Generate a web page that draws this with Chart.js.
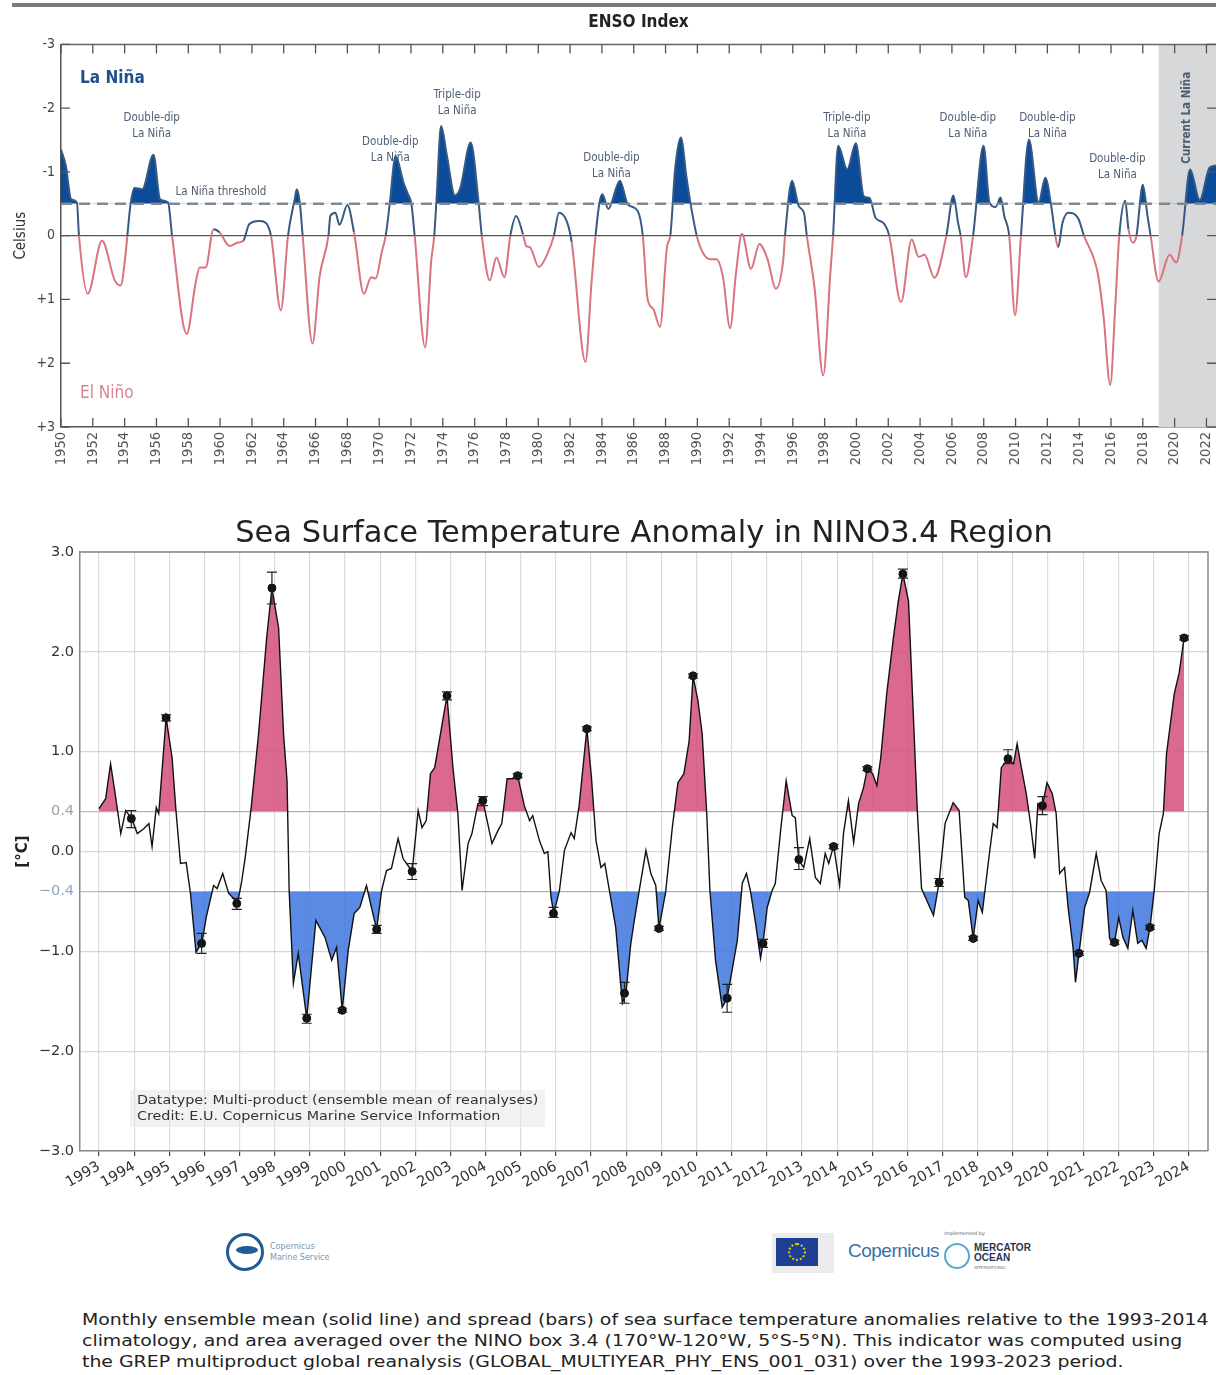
<!DOCTYPE html>
<html>
<head>
<meta charset="utf-8">
<script src="https://cdn.jsdelivr.net/npm/chart.js@4.4.1/dist/chart.umd.min.js"></script>
<style>
  body { margin: 0; background: #fff; width: 1216px; height: 1375px; position: relative; overflow: hidden; font-family: 'DejaVu Sans', sans-serif; }
  canvas { position: absolute; left: 0; }
  #topline { position: absolute; left: 12px; top: 3px; width: 1204px; height: 4px; background: #7a7a7a; }
  #infobox { position: absolute; left: 130px; top: 1090px; width: 415px; height: 37px; background: rgba(232,232,232,0.55); }
  #infotext { position: absolute; left: 137px; top: 1092px; font-size: 13px; line-height: 16px; color: #333; white-space: pre; transform: scaleX(1.1); transform-origin: left top; }
  #caption { position: absolute; left: 82px; top: 1309px; font-size: 16px; line-height: 21px; color: #222; white-space: pre; transform: scaleX(1.18); transform-origin: left top; }
  .logo { position: absolute; }
</style>
</head>
<body>
<div id="topline"></div>
<canvas id="ensoChart" width="1216" height="480" style="top:0"></canvas>
<canvas id="sstChart" width="1216" height="720" style="top:490px"></canvas>
<div id="infobox"></div>
<div id="infotext">Datatype: Multi-product (ensemble mean of reanalyses)
Credit: E.U. Copernicus Marine Service Information</div>

<!-- logos -->
<div class="logo" style="left:226px;top:1233px;width:32px;height:32px;border:3px solid #1f5c99;border-radius:50%;"></div>
<div class="logo" style="left:236px;top:1246px;width:22px;height:8px;background:#1f5c99;border-radius:50%;"></div>
<div class="logo" style="left:270px;top:1241px;font-size:8px;line-height:11px;color:#7896b8;">Copernicus<br>Marine Service</div>
<div class="logo" style="left:772px;top:1233px;width:62px;height:40px;background:#ececec;"></div>
<div class="logo" style="left:776px;top:1238px;width:42px;height:28px;background:#1f3f95;"></div>
<div class="logo" style="left:788px;top:1243px;width:14px;height:14px;border:2px dotted #f4d000;border-radius:50%;"></div>
<div class="logo" style="left:848px;top:1240px;font-family:'Liberation Sans',sans-serif;font-size:19px;letter-spacing:-0.5px;color:#3a70a8;">Copernicus</div>
<div class="logo" style="left:944px;top:1243px;width:22px;height:22px;border:2px solid #59a9cf;border-radius:50%;"></div>
<div class="logo" style="left:944px;top:1230px;font-size:5px;color:#666;">implemented by</div>
<div class="logo" style="left:974px;top:1243px;font-family:'Liberation Sans',sans-serif;font-weight:bold;font-size:10px;line-height:10px;color:#2a3550;">MERCATOR<br>OCEAN</div>
<div class="logo" style="left:974px;top:1265px;font-size:4px;color:#777;">INTERNATIONAL</div>

<div id="caption">Monthly ensemble mean (solid line) and spread (bars) of sea surface temperature anomalies relative to the 1993-2014
climatology, and area averaged over the NINO box 3.4 (170°W-120°W, 5°S-5°N). This indicator was computed using
the GREP multiproduct global reanalysis (GLOBAL_MULTIYEAR_PHY_ENS_001_031) over the 1993-2023 period.</div>

<script>
// ---- ENSO index (top panel) ----
const ensoYears = [1950.0, 1950.3, 1950.64, 1951.0, 1951.13, 1951.68, 1952.58, 1953.38, 1953.75, 1954.07,
  1954.17, 1954.37, 1954.62, 1955.11, 1955.81, 1956.23, 1956.73, 1956.98, 1957.9, 1958.47,
  1958.72, 1959.09, 1959.59, 1959.97, 1960.59, 1961.08, 1961.46, 1961.83, 1962.45, 1962.83,
  1963.2, 1963.82, 1964.27, 1964.69, 1964.82, 1965.01, 1965.19, 1965.81, 1966.26, 1966.81,
  1966.93, 1967.25, 1967.5, 1968.0, 1968.42, 1969.04, 1969.49, 1969.78, 1970.16, 1970.41,
  1970.66, 1971.03, 1971.53, 1971.78, 1972.03, 1972.23, 1972.89, 1973.27, 1973.46, 1973.6,
  1973.89, 1974.26, 1974.76, 1975.1, 1975.75, 1976.25, 1976.45, 1976.95, 1977.37, 1977.87,
  1978.24, 1978.61, 1979.04, 1979.24, 1979.47, 1980.04, 1980.6, 1980.98, 1981.3, 1981.8,
  1982.1, 1982.97, 1983.35, 1983.6, 1983.85, 1984.03, 1984.4, 1985.13, 1985.63, 1986.24,
  1986.57, 1986.87, 1987.23, 1987.65, 1988.1, 1988.3, 1988.6, 1988.96, 1989.33, 1989.58,
  1989.96, 1990.33, 1990.8, 1991.2, 1991.61, 1992.06, 1992.43, 1992.8, 1993.37, 1993.9,
  1994.4, 1994.94, 1995.39, 1995.51, 1995.95, 1996.38, 1996.7, 1996.88, 1997.37, 1997.91,
  1998.36, 1998.53, 1998.85, 1999.42, 1999.96, 2000.46, 2000.83, 2001.2, 2001.69, 2002.06,
  2002.8, 2003.47, 2003.91, 2004.28, 2004.9, 2005.65, 2006.09, 2006.39, 2006.55, 2006.88,
  2007.33, 2007.99, 2008.36, 2008.75, 2009.06, 2009.3, 2009.6, 2009.97, 2010.34, 2010.84,
  2011.45, 2011.87, 2012.27, 2012.5, 2012.68, 2012.95, 2013.31, 2013.92, 2014.3, 2015.16,
  2015.53, 2015.95, 2016.27, 2016.52, 2016.89, 2017.1, 2017.38, 2017.6, 2018.0, 2018.3,
  2018.49, 2018.99, 2019.68, 2020.1, 2020.47, 2020.97, 2021.58, 2022.2, 2022.6];
const ensoValues = [-1.35, -1.1, -0.57, -0.52, 0, 0.91, 0.08, 0.70, 0.78, 0.26,
  0, -0.49, -0.75, -0.73, -1.27, -0.57, -0.52, 0, 1.54, 0.73,
  0.50, 0.50, -0.10, -0.05, 0.16, 0.11, 0.08, -0.18, -0.23, -0.21,
  0, 1.17, 0, -0.57, -0.73, -0.52, 0, 1.69, 0.63, 0,
  -0.31, -0.36, -0.17, -0.48, -0.05, 0.91, 0.65, 0.67, 0.26, 0,
  -0.49, -1.25, -0.83, -0.67, -0.49, 0, 1.75, 0.40, 0, -0.55,
  -1.72, -1.25, -0.63, -0.75, -1.46, -0.52, 0, 0.70, 0.34, 0.65,
  0, -0.31, -0.02, 0.16, 0.18, 0.49, 0.27, 0, -0.36, -0.22,
  0.1, 1.98, 0.72, 0, -0.52, -0.65, -0.42, -0.86, -0.49, -0.39,
  0, 0.99, 1.15, 1.43, 0.16, 0, -1.04, -1.54, -0.89, -0.49,
  0, 0.26, 0.37, 0.37, 0.65, 1.45, 0.58, -0.03, 0.52, 0.13,
  0.36, 0.83, 0.40, 0, -0.86, -0.46, -0.36, 0, 0.83, 2.19,
  0.58, 0, -1.41, -1.04, -1.45, -0.62, -0.59, -0.28, -0.20, 0,
  1.04, 0.06, 0.33, 0.30, 0.66, 0, -0.63, -0.2, 0, 0.65,
  0, -1.41, -0.52, -0.45, -0.6, -0.3, 0, 1.25, 0, -1.51,
  -0.52, -0.91, -0.42, 0, 0.18, -0.2, -0.36, -0.28, 0, 0.58,
  1.26, 2.34, 1.1, 0, -0.55, -0.1, 0.11, 0, -0.8, -0.3,
  0, 0.72, 0.3, 0.42, 0, -1.04, -0.56, -1.07, -1.1];
const ensoTickYears = [1950, 1952, 1954, 1956, 1958, 1960, 1962, 1964, 1966, 1968, 1970, 1972, 1974, 1976,
  1978, 1980, 1982, 1984, 1986, 1988, 1990, 1992, 1994, 1996, 1998, 2000, 2002, 2004, 2006, 2008,
  2010, 2012, 2014, 2016, 2018, 2020, 2022];
const laNinaThreshold = -0.5;
const currentLaNinaStart = 2019;
// event labels: [year, value, text]
const ensoEventLabels = [
  [1955.7, -1.72, 'Double-dip|La Niña'],
  [1970.7, -1.34, 'Double-dip|La Niña'],
  [1974.9, -2.08, 'Triple-dip|La Niña'],
  [1984.6, -1.09, 'Double-dip|La Niña'],
  [1999.4, -1.72, 'Triple-dip|La Niña'],
  [2007.0, -1.72, 'Double-dip|La Niña'],
  [2012.0, -1.72, 'Double-dip|La Niña'],
  [2016.4, -1.07, 'Double-dip|La Niña']
];

// ---- SST anomaly NINO3.4 (bottom panel) ----
const sstYears = [1993.0, 1993.19, 1993.33, 1993.46, 1993.62, 1993.76, 1993.93, 1994.09, 1994.28, 1994.42,
  1994.51, 1994.63, 1994.70, 1994.91, 1995.08, 1995.19, 1995.32, 1995.48, 1995.60, 1995.76,
  1995.93, 1996.05, 1996.26, 1996.36, 1996.52, 1996.69, 1996.83, 1996.94, 1997.05, 1997.16,
  1997.33, 1997.54, 1997.77, 1997.92, 1998.11, 1998.25, 1998.35, 1998.41, 1998.53, 1998.67,
  1998.91, 1999.17, 1999.43, 1999.62, 1999.76, 1999.92, 2000.09, 2000.26, 2000.42, 2000.61,
  2000.75, 2000.90, 2001.04, 2001.18, 2001.32, 2001.51, 2001.65, 2001.79, 2001.91, 2002.08,
  2002.19, 2002.31, 2002.43, 2002.55, 2002.90, 2003.07, 2003.21, 2003.33, 2003.50, 2003.61,
  2003.78, 2003.92, 2004.06, 2004.18, 2004.35, 2004.46, 2004.61, 2004.77, 2004.91, 2005.10,
  2005.25, 2005.34, 2005.53, 2005.67, 2005.77, 2005.86, 2005.94, 2006.10, 2006.24, 2006.43,
  2006.52, 2006.66, 2006.88, 2007.01, 2007.14, 2007.28, 2007.39, 2007.52, 2007.70, 2007.85,
  2007.89, 2007.99, 2008.13, 2008.23, 2008.37, 2008.56, 2008.70, 2008.84, 2008.93, 2009.12,
  2009.31, 2009.47, 2009.64, 2009.79, 2009.90, 2010.04, 2010.16, 2010.29, 2010.38, 2010.54,
  2010.73, 2010.87, 2011.01, 2011.16, 2011.30, 2011.42, 2011.53, 2011.68, 2011.82, 2011.89,
  2012.01, 2012.15, 2012.24, 2012.40, 2012.55, 2012.72, 2012.81, 2012.91, 2013.05, 2013.22,
  2013.38, 2013.52, 2013.66, 2013.76, 2013.90, 2014.07, 2014.18, 2014.32, 2014.47, 2014.61,
  2014.75, 2014.86, 2015.01, 2015.13, 2015.24, 2015.41, 2015.60, 2015.74, 2015.87, 2016.03,
  2016.17, 2016.28, 2016.40, 2016.55, 2016.74, 2016.90, 2017.07, 2017.30, 2017.47, 2017.63,
  2017.73, 2017.87, 2018.01, 2018.13, 2018.30, 2018.44, 2018.55, 2018.67, 2018.86, 2019.02,
  2019.12, 2019.24, 2019.38, 2019.50, 2019.62, 2019.71, 2019.84, 2019.97, 2020.12, 2020.23,
  2020.33, 2020.47, 2020.57, 2020.71, 2020.78, 2020.88, 2021.04, 2021.18, 2021.37, 2021.51,
  2021.65, 2021.75, 2021.89, 2022.01, 2022.13, 2022.27, 2022.41, 2022.55, 2022.67, 2022.79,
  2022.90, 2023.02, 2023.16, 2023.28, 2023.37, 2023.59, 2023.73, 2023.87];
const sstValues = [0.43, 0.53, 0.88, 0.58, 0.18, 0.41, 0.33, 0.18, 0.23, 0.28,
  0.05, 0.44, 0.38, 1.34, 0.94, 0.41, -0.12, -0.11, -0.41, -1.01,
  -0.91, -0.66, -0.34, -0.37, -0.22, -0.42, -0.47, -0.52, -0.32, -0.06,
  0.44, 1.18, 2.14, 2.64, 2.24, 1.18, 0.71, -0.39, -1.32, -1.02,
  -1.67, -0.69, -0.86, -1.09, -0.96, -1.59, -0.99, -0.62, -0.56, -0.34,
  -0.56, -0.78, -0.39, -0.19, -0.17, 0.13, -0.07, -0.14, -0.20, 0.41,
  0.24, 0.31, 0.78, 0.84, 1.56, 0.84, 0.38, -0.39, 0.08, 0.18,
  0.48, 0.51, 0.28, 0.08, 0.21, 0.28, 0.73, 0.73, 0.76, 0.46,
  0.31, 0.36, 0.11, -0.02, 0.00, -0.46, -0.62, -0.39, 0.01, 0.19,
  0.13, 0.46, 1.23, 0.74, 0.11, -0.16, -0.12, -0.39, -0.76, -1.36,
  -1.52, -1.42, -0.92, -0.69, -0.39, 0.01, -0.22, -0.34, -0.77, -0.41,
  0.24, 0.69, 0.78, 1.11, 1.76, 1.51, 1.18, 0.38, -0.39, -1.09,
  -1.56, -1.47, -1.19, -0.89, -0.32, -0.22, -0.39, -0.72, -1.07, -0.92,
  -0.56, -0.39, -0.32, 0.24, 0.71, 0.36, 0.34, -0.09, -0.16, 0.13,
  -0.26, -0.32, -0.02, -0.12, 0.06, -0.34, 0.18, 0.51, 0.09, 0.48,
  0.64, 0.83, 0.78, 0.66, 0.94, 1.58, 2.14, 2.51, 2.78, 2.51,
  1.34, 0.41, -0.37, -0.49, -0.64, -0.31, 0.28, 0.49, 0.41, -0.46,
  -0.49, -0.87, -0.49, -0.61, -0.11, 0.28, 0.24, 0.84, 0.93, 0.88,
  1.08, 0.84, 0.58, 0.28, -0.07, 0.48, 0.46, 0.69, 0.58, 0.38,
  -0.22, -0.16, -0.56, -0.96, -1.31, -1.02, -0.56, -0.41, -0.02, -0.29,
  -0.39, -0.87, -0.91, -0.66, -0.86, -0.97, -0.59, -0.92, -0.89, -0.97,
  -0.76, -0.39, 0.18, 0.38, 0.98, 1.58, 1.79, 2.14];
// December ensemble mean with spread (min / max)
const markerYears = [1993.92, 1994.91, 1995.92, 1996.92, 1997.92, 1998.91, 1999.92, 2000.9, 2001.91, 2002.9,
  2003.92, 2004.91, 2005.93, 2006.88, 2007.95, 2008.93, 2009.9, 2010.87, 2011.89, 2012.91,
  2013.9, 2014.86, 2015.87, 2016.9, 2017.87, 2018.86, 2019.84, 2020.88, 2021.89, 2022.9, 2023.87];
const markerValues = [0.33, 1.34, -0.92, -0.52, 2.64, -1.67, -1.59, -0.78, -0.20, 1.56,
  0.51, 0.76, -0.62, 1.23, -1.42, -0.77, 1.76, -1.47, -0.92, -0.08,
  0.05, 0.83, 2.78, -0.31, -0.87, 0.93, 0.46, -1.02, -0.91, -0.76, 2.14];
const markerHigh = [0.41, 1.37, -0.82, -0.47, 2.80, -1.63, -1.57, -0.74, -0.12, 1.60,
  0.55, 0.78, -0.56, 1.25, -1.31, -0.75, 1.78, -1.33, -0.88, 0.04,
  0.07, 0.85, 2.83, -0.27, -0.85, 1.02, 0.55, -1.00, -0.89, -0.74, 2.16];
const markerLow = [0.24, 1.31, -1.02, -0.58, 2.48, -1.72, -1.61, -0.82, -0.28, 1.52,
  0.46, 0.74, -0.66, 1.21, -1.52, -0.79, 1.74, -1.61, -0.96, -0.18,
  0.03, 0.81, 2.74, -0.35, -0.89, 0.88, 0.37, -1.04, -0.93, -0.78, 2.12];
const sstTickYears = [1993, 1994, 1995, 1996, 1997, 1998, 1999, 2000, 2001, 2002, 2003, 2004, 2005, 2006, 2007, 2008,
  2009, 2010, 2011, 2012, 2013, 2014, 2015, 2016, 2017, 2018, 2019, 2020, 2021, 2022, 2023, 2024];
const sstTickValues = [-3, -2, -1, -0.4, 0, 0.4, 1, 2, 3];
const elNinoLevel = 0.4;
const laNinaLevel = -0.4;

const condensed = "'DejaVu Sans Condensed', 'Liberation Sans Narrow', sans-serif";

// ---------- top chart ----------
const ensoDecor = {
  id: 'ensoDecor',
  beforeDatasetsDraw(chart) {
    const {ctx, chartArea: a, scales: {x}} = chart;
    ctx.save();
    ctx.fillStyle = '#d6d8da';
    const x0 = x.getPixelForValue(currentLaNinaStart);
    ctx.fillRect(x0, a.top, a.right - x0, a.bottom - a.top);
    ctx.restore();
  },
  afterDraw(chart) {
    const {ctx, chartArea: a, scales: {x, y}} = chart;
    ctx.save();
    ctx.strokeStyle = '#666';
    ctx.lineWidth = 1.5;
    ctx.beginPath();
    ctx.moveTo(a.left, a.top); ctx.lineTo(a.right, a.top);
    ctx.stroke();
    // inward ticks
    ctx.lineWidth = 1.3;
    ctx.strokeStyle = '#555';
    ensoTickYears.forEach(v => {
      const px = x.getPixelForValue(v);
      ctx.beginPath();
      ctx.moveTo(px, a.bottom); ctx.lineTo(px, a.bottom - 9);
      ctx.moveTo(px, a.top); ctx.lineTo(px, a.top + 9);
      ctx.stroke();
    });
    [-3, -2, -1, 0, 1, 2, 3].forEach(v => {
      const py = y.getPixelForValue(v);
      ctx.beginPath();
      ctx.moveTo(a.left, py); ctx.lineTo(a.left + 9, py);
      ctx.moveTo(a.right, py); ctx.lineTo(a.right - 9, py);
      ctx.stroke();
    });
    // labels
    ctx.textBaseline = 'middle';
    ctx.textAlign = 'left';
    ctx.fillStyle = '#1f4f8c';
    ctx.font = 'bold 17px ' + condensed;
    ctx.fillText('La Niña', x.getPixelForValue(1951.2), y.getPixelForValue(-2.47));
    ctx.fillStyle = '#d98590';
    ctx.font = '17px ' + condensed;
    ctx.fillText('El Niño', x.getPixelForValue(1951.2), y.getPixelForValue(2.48));
    ctx.fillStyle = '#55606c';
    ctx.font = '11.5px ' + condensed;
    ctx.fillText('La Niña threshold', x.getPixelForValue(1957.2), y.getPixelForValue(-0.68));
    ctx.textAlign = 'center';
    ctx.fillStyle = '#4e6075';
    ensoEventLabels.forEach(([yr, v, txt]) => {
      const px = x.getPixelForValue(yr);
      txt.split('|').forEach((line, i) => {
        ctx.fillText(line, px, y.getPixelForValue(v) + (i - 0.5) * 16);
      });
    });
    ctx.save();
    ctx.translate(x.getPixelForValue(2020.8), y.getPixelForValue(-1.85));
    ctx.rotate(-Math.PI / 2);
    ctx.font = 'bold 11.5px ' + condensed;
    ctx.fillStyle = '#4b5d72';
    ctx.fillText('Current La Niña', 0, 0);
    ctx.restore();
    ctx.restore();
  }
};

new Chart(document.getElementById('ensoChart'), {
  type: 'line',
  data: {
    datasets: [
      {
        data: [{x: 1950, y: laNinaThreshold}, {x: 2022.6, y: laNinaThreshold}],
        borderColor: '#7f8994',
        borderWidth: 2.5,
        borderDash: [11, 7],
        pointRadius: 0,
        fill: false
      },
      {
        data: ensoYears.map((x, i) => ({x, y: ensoValues[i]})),
        borderWidth: 2,
        pointRadius: 0,
        cubicInterpolationMode: 'monotone',
        fill: {target: {value: laNinaThreshold}, above: '#0b4b99', below: 'rgba(0,0,0,0)'},
        segment: {
          borderColor: c => (c.p0.parsed.y + c.p1.parsed.y) / 2 < 0 ? '#375a82' : '#d9737d'
        }
      }
    ]
  },
  options: {
    responsive: false,
    animation: false,
    layout: {padding: {left: 0, right: 0, top: 0, bottom: 0}},
    plugins: {
      legend: {display: false},
      tooltip: {enabled: false},
      title: {
        display: true,
        fullSize: false,
        text: 'ENSO Index',
        font: {family: condensed, size: 17, weight: 'bold'},
        color: '#222',
        padding: {top: 12, bottom: 12}
      }
    },
    scales: {
      x: {
        type: 'linear',
        min: 1950,
        max: 2022.6,
        afterBuildTicks: s => { s.ticks = ensoTickYears.map(v => ({value: v})); },
        afterFit: s => { s.height = 53; s.paddingLeft = 0; s.paddingRight = 0; },
        ticks: {
          autoSkip: false, minRotation: 90, maxRotation: 90, padding: 5,
          color: '#555', font: {family: condensed, size: 14.5},
          callback: v => String(v)
        },
        grid: {display: true, color: 'rgba(0,0,0,0)', drawTicks: false},
        border: {display: true, color: '#555', width: 1.5}
      },
      y: {
        min: -3,
        max: 3,
        reverse: true,
        afterFit: s => { s.width = 61; },
        ticks: {
          stepSize: 1, padding: 6, color: '#444', font: {family: condensed, size: 14},
          callback: v => v > 0 ? '+' + v : String(v)
        },
        grid: {
          drawTicks: false,
          color: c => c.tick && c.tick.value === 0 ? '#555' : 'rgba(0,0,0,0)',
          lineWidth: 1.2
        },
        border: {display: true, color: '#555', width: 1.5},
        title: {display: true, text: 'Celsius', color: '#333', font: {family: condensed, size: 15}, padding: {top: 12, bottom: 0}}
      }
    }
  },
  plugins: [ensoDecor]
});

// ---------- bottom chart ----------
const sstDecor = {
  id: 'sstDecor',
  afterDatasetsDraw(chart) {
    const {ctx, scales: {x, y}} = chart;
    ctx.save();
    ctx.strokeStyle = '#222';
    ctx.lineWidth = 1.2;
    markerYears.forEach((yr, i) => {
      const px = x.getPixelForValue(yr);
      const hi = y.getPixelForValue(markerHigh[i]);
      const lo = y.getPixelForValue(markerLow[i]);
      ctx.beginPath();
      ctx.moveTo(px, hi); ctx.lineTo(px, lo);
      ctx.moveTo(px - 5, hi); ctx.lineTo(px + 5, hi);
      ctx.moveTo(px - 5, lo); ctx.lineTo(px + 5, lo);
      ctx.stroke();
    });
    ctx.restore();
  },
  afterDraw(chart) {
    const {ctx, chartArea: a} = chart;
    ctx.save();
    ctx.strokeStyle = '#888';
    ctx.lineWidth = 1.5;
    ctx.beginPath();
    ctx.moveTo(a.left, a.top); ctx.lineTo(a.right, a.top); ctx.lineTo(a.right, a.bottom);
    ctx.stroke();
    ctx.restore();
  }
};

const sstPoints = sstYears.map((x, i) => ({x, y: sstValues[i]}));

new Chart(document.getElementById('sstChart'), {
  type: 'line',
  data: {
    datasets: [
      {
        data: markerYears.map((x, i) => ({x, y: markerValues[i]})),
        showLine: false,
        pointRadius: 4,
        pointBackgroundColor: '#111',
        pointBorderColor: '#111',
        fill: false
      },
      {
        data: sstPoints,
        borderColor: '#111',
        borderWidth: 1.4,
        pointRadius: 0,
        tension: 0,
        fill: false
      },
      {
        data: sstPoints,
        borderWidth: 0,
        pointRadius: 0,
        tension: 0,
        fill: {target: {value: elNinoLevel}, above: 'rgba(211,79,121,0.85)', below: 'rgba(0,0,0,0)'}
      },
      {
        data: sstPoints,
        borderWidth: 0,
        pointRadius: 0,
        tension: 0,
        fill: {target: {value: laNinaLevel}, above: 'rgba(0,0,0,0)', below: 'rgba(61,118,222,0.85)'}
      }
    ]
  },
  options: {
    responsive: false,
    animation: false,
    layout: {padding: {left: 0, right: 8, top: 0, bottom: 0}},
    plugins: {
      legend: {display: false},
      tooltip: {enabled: false},
      title: {
        display: true,
        fullSize: false,
        text: 'Sea Surface Temperature Anomaly in NINO3.4 Region',
        font: {family: "'DejaVu Sans', sans-serif", size: 30.5, weight: 'normal'},
        color: '#222',
        padding: {top: 25.5, bottom: 0}
      }
    },
    scales: {
      x: {
        type: 'linear',
        min: 1992.46,
        max: 2024.55,
        afterBuildTicks: s => { s.ticks = sstTickYears.map(v => ({value: v})); },
        afterFit: s => { s.height = 59; },
        ticks: {
          autoSkip: false, minRotation: 30, maxRotation: 30, padding: 2,
          color: '#333', font: {family: "'DejaVu Sans', sans-serif", size: 14.5},
          callback: v => String(v)
        },
        grid: {color: '#dcdcdc', lineWidth: 1.2, tickLength: 5, tickColor: '#444'},
        border: {display: true, color: '#888', width: 1.5}
      },
      y: {
        min: -3,
        max: 3,
        afterBuildTicks: s => { s.ticks = sstTickValues.map(v => ({value: v})); },
        afterFit: s => { s.width = 80; },
        ticks: {
          padding: 6,
          font: {family: "'DejaVu Sans', sans-serif", size: 14.5},
          color: c => c.tick.value === 0.4 ? '#a0a0a0' : (c.tick.value === -0.4 ? '#8ea6c6' : '#333'),
          callback: v => (v < 0 ? '\u2212' : '') + Math.abs(v).toFixed(1)
        },
        grid: {color: c => Math.abs(c.tick.value) === 0.4 ? '#bdbdbd' : '#d6d6d6', lineWidth: 1.3, tickLength: 0},
        border: {display: true, color: '#888', width: 1.5},
        title: {display: true, text: '[°C]', color: '#222', font: {family: "'DejaVu Sans', sans-serif", size: 15, weight: 'bold'}, padding: {top: 14, bottom: 0}}
      }
    }
  },
  plugins: [sstDecor]
});
</script>
</body>
</html>
